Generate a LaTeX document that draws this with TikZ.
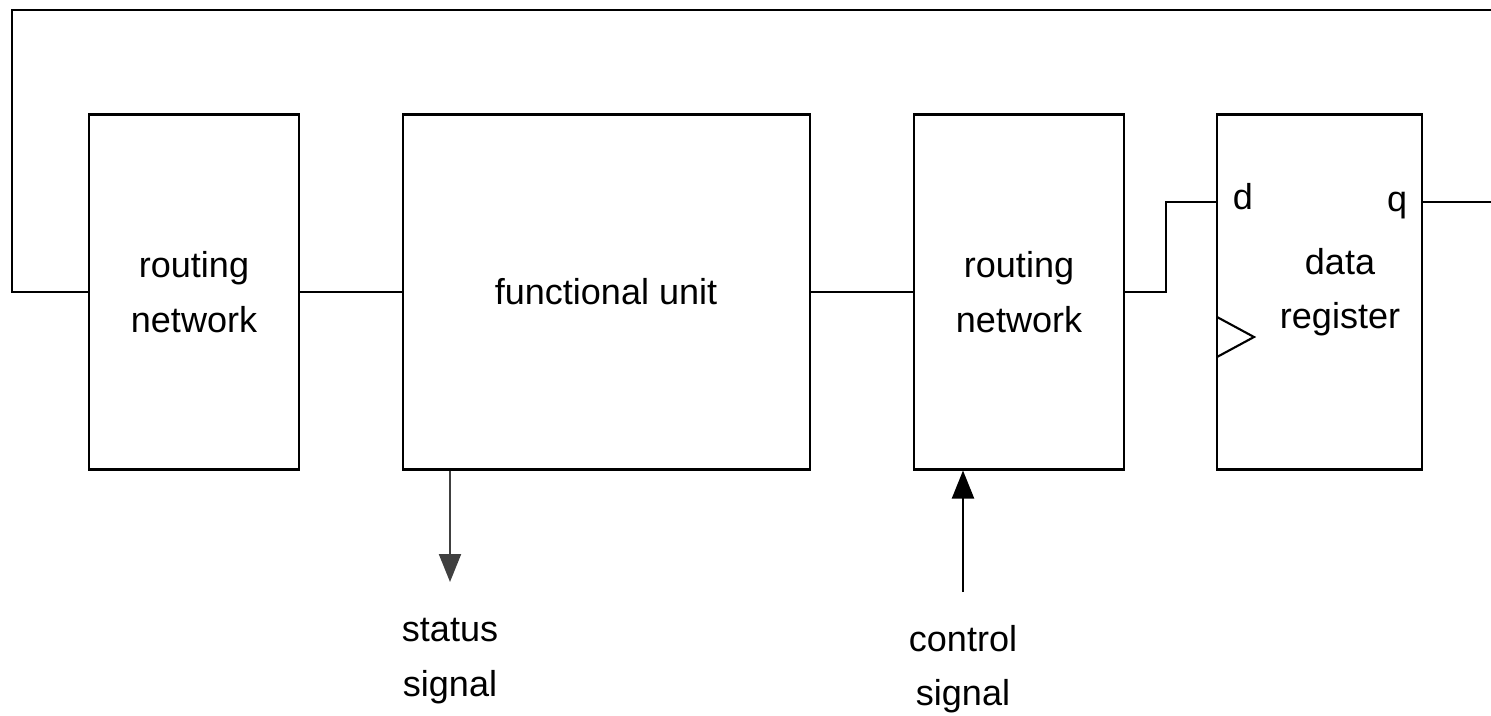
\documentclass[tikz,border=0pt]{standalone}
\usepackage{fontspec}
\setmainfont{Liberation Sans}
\usepackage{tikz}
\usetikzlibrary{arrows.meta, positioning, calc}

\tikzset{
  blk/.style = {draw, line width=1.2pt, minimum width=4.2cm, minimum height=7.1cm,
    inner sep=0pt},
  lbl/.style = {align=center, inner sep=0pt,
    font=\fontsize{20.5}{31}\selectfont},
  wire/.style = {line width=1.2pt},
}

\begin{document}
\begin{tikzpicture}[x=0.02cm, y=-0.02cm, >={Triangle[width=0.44cm,length=0.56cm]}]
    \useasboundingbox (0,0) rectangle (1491,716);

    \node[blk] at (194, 292) (rn1) {};
    \node[blk, minimum width=8.14cm] at (606.5, 292) (fu) {};
    \node[blk] at (1019, 292) (rn2) {};
    \node[blk, minimum width=4.1cm] at (1319.5, 292) (reg) {};

    \node[lbl] at (194, 292) (rn1txt) {routing\\network};
    \node[lbl] at (606, 292) (futxt) {functional unit};
    \node[lbl] at (1019, 292) (rn2txt) {routing\\network};
    \node[lbl] at (1340, 292) (regtxt) {data\\register};
    \node[lbl] at (1243, 197) (d) {d};
    \node[lbl] at (1397, 206) (q) {q};

    \node[lbl] at (450, 661) (status) {status\\signal};
    \node[lbl] at (963, 669) (control) {control\\signal};

    \coordinate (din) at (1217, 202);
    \coordinate (qout) at (1422, 202);
    \coordinate (qend) at (1491, 202);
    \coordinate (loopend) at (1491, 10);
    \coordinate (stat) at (450, 582);
    \coordinate (ctrl) at (963, 592);

    \draw[wire] (rn1.east) -- (fu.west);
    \draw[wire] (fu.east) -- (rn2.west);
    \draw[wire] (rn2.east) -- ++(41,0) |- (din);
    \draw[wire] (qout) -- (qend);
    \draw[wire] (rn1.west) -- (12,292) -- (12,10) -- (loopend);

    % clock input
    \draw[wire] (1217,317) -- (1254,337) -- (1217,357);

    \draw[wire, ->, draw=black!75] (fu.south -| stat) -- (stat);
    \draw[wire, ->] (ctrl) -- (rn2.south -| ctrl);
\end{tikzpicture}
\end{document}
